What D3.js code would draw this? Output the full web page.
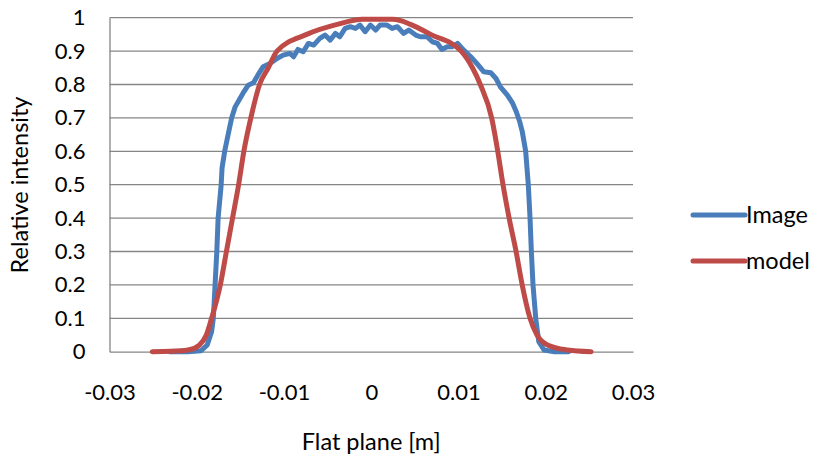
<!DOCTYPE html>
<html>
<head>
<meta charset="utf-8">
<script src="https://cdn.jsdelivr.net/npm/d3@7"></script>
<style>
  body { margin: 0; background: #fff; }
  svg text { font-family: Lato, "Open Sans", sans-serif; fill: #000; }
</style>
</head>
<body>
<div id="chart"><svg width="817" height="457"></svg></div>
<script>
// measured image profile (blue)
const imageX = [-0.0231, -0.021, -0.0195, -0.0188, -0.0183, -0.0181, -0.0179, -0.0177, -0.01755, -0.0172,
  -0.0171, -0.0168, -0.0164, -0.016, -0.0156, -0.0147, -0.0141, -0.0135, -0.0130, -0.0124,
  -0.0116, -0.0108, -0.0101, -0.0093, -0.0089, -0.0084, -0.0078, -0.0072, -0.0066, -0.0059,
  -0.0053, -0.0047, -0.0041, -0.0036, -0.0030, -0.0024, -0.0018, -0.0013, -0.0007, -0.0001,
  0.0005, 0.0010, 0.0018, 0.0024, 0.0030, 0.0037, 0.0043, 0.0051, 0.0056, 0.0064,
  0.0070, 0.0076, 0.0081, 0.0087, 0.0093, 0.0099, 0.0106, 0.0114, 0.0121, 0.0129,
  0.0137, 0.0143, 0.0148, 0.0156, 0.0162, 0.0166, 0.0170, 0.0173, 0.0177, 0.0180,
  0.0182, 0.01835, 0.01854, 0.01885, 0.0192, 0.0198, 0.021, 0.0226];
const imageY = [0, 0, 0.003, 0.02, 0.06, 0.1, 0.2, 0.3, 0.4, 0.5,
  0.55, 0.6, 0.65, 0.7, 0.733, 0.774, 0.798, 0.805, 0.828, 0.853,
  0.863, 0.878, 0.888, 0.893, 0.883, 0.905, 0.898, 0.923, 0.918, 0.938,
  0.948, 0.933, 0.953, 0.943, 0.968, 0.973, 0.968, 0.978, 0.958, 0.978,
  0.963, 0.978, 0.978, 0.968, 0.973, 0.953, 0.963, 0.948, 0.943, 0.943,
  0.928, 0.923, 0.905, 0.913, 0.913, 0.923, 0.903, 0.883, 0.863, 0.838,
  0.835, 0.818, 0.793, 0.768, 0.744, 0.72, 0.69, 0.66, 0.6, 0.5,
  0.4, 0.3, 0.2, 0.1, 0.03, 0.005, 0, 0];

// model profile (red)
const modelX = [-0.0251, -0.023, -0.021, -0.0197, -0.0189, -0.0183, -0.0173, -0.0166, -0.0159, -0.0152,
  -0.0146, -0.0138, -0.0128, -0.0118, -0.0108, -0.0074, -0.0039, -0.001, 0.001, 0.0025,
  0.0045, 0.0068, 0.0103, 0.0116, 0.0125, 0.0138, 0.0145, 0.0151, 0.0158, 0.0166,
  0.0173, 0.0182, 0.019, 0.0202, 0.0225, 0.0252];
const modelY = [0, 0.001, 0.005, 0.02, 0.05, 0.1, 0.2, 0.3, 0.4, 0.5,
  0.6, 0.7, 0.8, 0.85, 0.9, 0.95, 0.98, 0.995, 0.995, 0.995,
  0.98, 0.95, 0.9, 0.85, 0.8, 0.7, 0.6, 0.5, 0.4, 0.3,
  0.2, 0.1, 0.05, 0.02, 0.005, 0];

const xTicks = [-0.03, -0.02, -0.01, 0, 0.01, 0.02, 0.03];
const yTicks = [0, 0.1, 0.2, 0.3, 0.4, 0.5, 0.6, 0.7, 0.8, 0.9, 1];

const seriesNames = ["Image", "model"];
const seriesColors = ["#4A7EBB", "#BE4B48"];

const svg = d3.select("#chart").select("svg");

const margin = {top: 17.7, left: 109.5, right: 184, bottom: 105.3};
const width = 817, height = 457;

const tickFont = "22px";
const titleFont = "23.5px";

let xScale = d3.scaleLinear()
    .domain([-0.03, 0.03])
    .range([margin.left, width - margin.right]);

let yScale = d3.scaleLinear()
    .domain([0, 1])
    .range([height - margin.bottom, margin.top]);

// gridlines
svg.append("g")
    .selectAll("line")
    .data(yTicks.filter(d => d > 0))
    .enter()
    .append("line")
    .attr("x1", xScale(-0.03))
    .attr("x2", xScale(0.03))
    .attr("y1", d => yScale(d))
    .attr("y2", d => yScale(d))
    .attr("stroke", "#868686")
    .attr("stroke-width", 1.3)

// axes
let xAxis = d3.axisBottom(xScale)
    .tickValues(xTicks)
    .tickSize(0)
    .tickFormat(d => d === 0 ? "0" : d3.format(".2f")(d).replace("\u2212", "-"))

let yAxis = d3.axisLeft(yScale)
    .tickValues(yTicks)
    .tickSize(0)
    .tickPadding(24)
    .tickFormat(d => d === 0 ? "0" : d === 1 ? "1" : d3.format(".1f")(d))

svg.append("g")
    .attr("transform", "translate(0," + yScale(0) + ")")
    .call(xAxis)
    .call(g => g.select(".domain").attr("stroke", "#868686").attr("stroke-width", 1.3))
    .selectAll("text")
    .attr("dy", null)
    .attr("y", 48)
    .style("font-size", tickFont)
    .style("font-family", "Lato")

svg.append("g")
    .attr("transform", "translate(" + margin.left + ",0)")
    .call(yAxis)
    .call(g => g.select(".domain").attr("stroke", "#868686").attr("stroke-width", 1.3))
    .selectAll("text")
    .style("font-size", tickFont)
    .style("font-family", "Lato")

// lines
const imageData = imageX.map((x, i) => ({x: x, y: imageY[i]}));
const modelData = modelX.map((x, i) => ({x: x, y: modelY[i]}));

let lineImage = d3.line()
    .x(d => xScale(d.x))
    .y(d => yScale(d.y))

let lineModel = d3.line()
    .x(d => xScale(d.x))
    .y(d => yScale(d.y))
    .curve(d3.curveMonotoneX)

svg.append("path")
    .datum(imageData)
    .attr("d", lineImage)
    .attr("fill", "none")
    .attr("stroke", seriesColors[0])
    .attr("stroke-width", 5)
    .attr("stroke-linejoin", "round")
    .attr("stroke-linecap", "round")

svg.append("path")
    .datum(modelData)
    .attr("d", lineModel)
    .attr("fill", "none")
    .attr("stroke", seriesColors[1])
    .attr("stroke-width", 5)
    .attr("stroke-linejoin", "round")
    .attr("stroke-linecap", "round")

// axis titles
svg.append("text")
    .attr("x", xScale(0))
    .attr("y", 450)
    .attr("text-anchor", "middle")
    .style("font-size", titleFont)
    .text("Flat plane [m]")

svg.append("text")
    .attr("transform", "translate(28,185) rotate(-90)")
    .attr("text-anchor", "middle")
    .style("font-size", titleFont)
    .text("Relative intensity")

// legend
const legend = svg.append("g")
let legendY = [215, 261]
seriesNames.forEach((name, i) => {
    legend.append("line")
        .attr("x1", 693)
        .attr("x2", 745)
        .attr("y1", legendY[i])
        .attr("y2", legendY[i])
        .attr("stroke", seriesColors[i])
        .attr("stroke-width", 5)
        .attr("stroke-linecap", "round")
    legend.append("text")
        .attr("x", 746)
        .attr("y", legendY[i] + 8)
        .style("font-size", titleFont)
        .text(name)
})
</script>
</body>
</html>
